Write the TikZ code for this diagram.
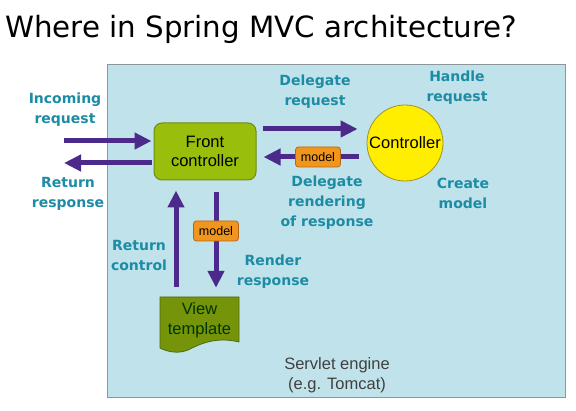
\documentclass[tikz,border=0pt]{standalone}
\usepackage{fontspec}
\setmainfont{Liberation Sans}
\newfontfamily\dejavu{DejaVu Sans}
\usetikzlibrary{arrows.meta, positioning, shapes.geometric}

\definecolor{enginefill}{RGB}{192,226,234}
\definecolor{enginedraw}{RGB}{140,150,155}
\definecolor{fcfill}{RGB}{153,190,12}
\definecolor{fcdraw}{RGB}{110,140,20}
\definecolor{ctlfill}{RGB}{255,238,0}
\definecolor{ctldraw}{RGB}{160,145,40}
\definecolor{mdlfill}{RGB}{240,150,30}
\definecolor{mdldraw}{RGB}{185,100,20}
\definecolor{vtfill}{RGB}{118,148,10}
\definecolor{vtdraw}{RGB}{80,105,15}
\definecolor{arrpurple}{RGB}{75,42,140}
\definecolor{lbltxt}{RGB}{28,140,165}

\begin{document}
\begin{tikzpicture}[x=1pt,y=-1pt,
  comp/.style={font=\fontsize{16.5}{19.5}\selectfont, align=center, inner sep=0pt},
  fcbox/.style={comp, rectangle, rounded corners=8pt, draw=fcdraw, fill=fcfill, line width=1pt, minimum width=102pt, minimum height=57pt},
  ctlbox/.style={comp, circle, draw=ctldraw, fill=ctlfill, line width=0.8pt, minimum size=76pt},
  mdl/.style={rectangle, rounded corners=3pt, draw=mdldraw, fill=mdlfill, line width=0.8pt, minimum width=45pt, minimum height=20pt, inner sep=0pt, font=\fontsize{12.5}{14}\selectfont},
  lbl/.style={font=\dejavu\fontsize{14}{20}\selectfont\bfseries, text=lbltxt, align=center, inner sep=0pt},
  arr/.style={-{Triangle[length=17pt,width=16pt]}, line width=5pt, draw=arrpurple}
]
  \useasboundingbox (0,0) rectangle (576,411);
  \node[font=\dejavu\fontsize{29.3}{34}\selectfont, anchor=base west, inner sep=0pt] (title) at (5,38) {Where in Spring MVC architecture?};

  \node[rectangle, draw=enginedraw, fill=enginefill, line width=1pt, minimum width=458pt, minimum height=333pt] (engine) at (336,231.5) {};
  \node[comp, text=black!75] (eng_txt) at (337,375) {Servlet engine\\(e.g. Tomcat)};

  \node[fcbox] (fc) at (205,151.5) {Front\\controller};
  \node[ctlbox] (ctl) at (405,143) {Controller};
  \fill[vtfill, draw=vtdraw, line width=0.8pt] (160,297) -- (239,297) -- (239,342)
    .. controls (215,336) and (198,345) .. (188,350) .. controls (178,354) and (168,352) .. (160,348) -- cycle;
  \node[comp, minimum width=79pt, minimum height=46pt, text=black!80!green] (vt) at (199.5,320) {View\\template};

  \coordinate (in_l) at (64,141);
  \coordinate (out_l) at (64,163);
  \draw[arr, shorten >=2pt] (in_l) -- (in_l -| fc.west);
  \draw[arr, shorten <=2pt] (out_l -| fc.west) -- (out_l);
  \draw[arr, shorten <=6pt, shorten >=9pt] ([yshift=22.5pt]fc.east) -- ([yshift=14pt]ctl.west);
  \draw[arr, shorten <=8pt, shorten >=7pt] ([yshift=-14pt]ctl.west) -- ([yshift=-5.5pt]fc.east);
  \draw[arr, shorten <=10pt, shorten >=10pt] ([xshift=-23.5pt]vt.north) -- ([xshift=-29pt]fc.south);
  \draw[arr, shorten <=12pt, shorten >=9pt] ([xshift=11pt]fc.south) -- ([xshift=16.5pt]vt.north);
  \node[mdl] (mdl_ctl) at (318,157) {model};
  \node[mdl] (mdl_vt) at (216,231) {model};

  \node[lbl] (in_txt) at (65,110) {Incoming\\request};
  \node[lbl] (out_txt) at (68,194) {Return\\response};
  \node[lbl] (dr_txt) at (315,92) {Delegate\\request};
  \node[lbl] (hr_txt) at (457,88) {Handle\\request};
  \node[lbl] (drr_txt) at (327,203) {Delegate\\rendering\\of response};
  \node[lbl] (cm_txt) at (463,193) {Create\\model};
  \node[lbl] (rc_txt) at (139,255) {Return\\control};
  \node[lbl] (rr_txt) at (273,272) {Render\\response};
\end{tikzpicture}
\end{document}
